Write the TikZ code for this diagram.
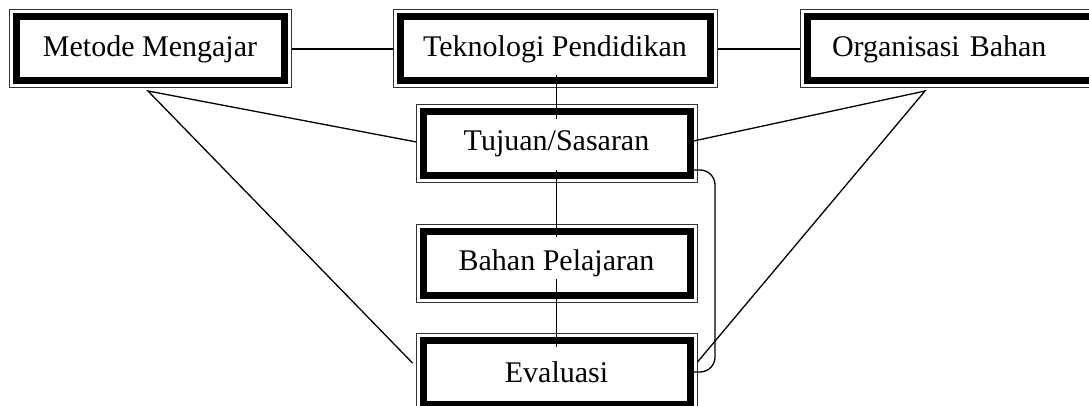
\documentclass[tikz,border=0pt]{standalone}
\usepackage{fontspec}
\setmainfont{Liberation Serif}
\begin{document}
\begin{tikzpicture}[x=1pt,y=-1pt,
  framebox/.style={rectangle, draw=black!80, line width=1pt, fill=white,
    minimum height=78pt, inner sep=0pt,
    font=\fontsize{30}{36}\selectfont,
    path picture={\draw[draw=black, line width=7pt]
      ([shift={(7pt,7pt)}]path picture bounding box.south west) rectangle
      ([shift={(-7pt,-7pt)}]path picture bounding box.north east);}},
  conn/.style={line width=1.3pt, black}]
\useasboundingbox (0,0) rectangle (1089,406);
\clip (0,0) rectangle (1089,406);
\node[framebox, minimum width=282pt] (metode) at (150,49) {Metode Mengajar};
\node[framebox, minimum width=324pt] (tek) at (555,49) {Teknologi Pendidikan};
\node[framebox, text width=260pt, inner xsep=32pt, align=left] (org) at (962,49) {Organisasi Bahan};
\node[framebox, minimum width=281pt] (tuj) at (556.5,144) {Tujuan/Sasaran};
\node[framebox, minimum width=281pt] (bahan) at (556.5,263) {Bahan Pelajaran};
\node[framebox, minimum width=281pt] (eval) at (556.5,372) {Evaluasi};
\coordinate (la) at (148,91);
\coordinate (ra) at (925,91);
\coordinate (bx) at (715,0);
\draw[conn] (metode.east) -- (tek.west);
\draw[conn] (tek.east) -- (org.west);
\draw[conn] ([yshift=13pt]tek.south -| tuj.north) -- ([yshift=-15pt]tuj.north);
\draw[conn] ([yshift=13pt]tuj.south) -- ([yshift=-13pt]bahan.north);
\draw[conn] ([yshift=24pt]bahan.south) -- ([yshift=-14pt]eval.north);
\draw[conn] ([shift={(1pt,2pt)}]tuj.west) -- (la) -- ([shift={(-3pt,9pt)}]eval.west);
\draw[conn] ([shift={(-4pt,3pt)}]tuj.east) -- (ra) -- ([yshift=10pt]eval.east);
\coordinate (ba) at ([shift={(-4pt,-26pt)}]tuj.east);
\coordinate (bb) at ([shift={(-4pt,0pt)}]eval.east);
\draw[conn, rounded corners=15pt] (ba) -- (ba -| bx) -- (bb -| bx) -- (bb);
\end{tikzpicture}
\end{document}
